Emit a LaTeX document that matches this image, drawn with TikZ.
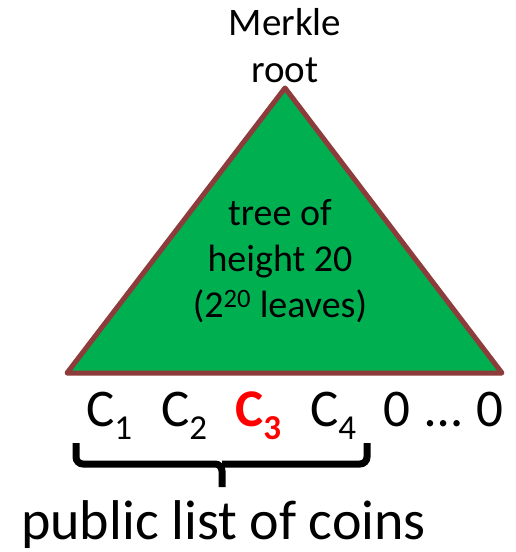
\documentclass[tikz,border=0pt]{standalone}
\usepackage{fontspec}
\setmainfont{Carlito}
\usetikzlibrary{positioning}
\definecolor{treeGreen}{HTML}{00B050}
\definecolor{treeBrown}{HTML}{8E3B3B}
\definecolor{coinRed}{HTML}{FF0000}
\newcommand{\coinsub}[1]{\raisebox{-13pt}{\fontsize{35}{35}\selectfont #1}}

\begin{document}
\begin{tikzpicture}[x=1pt, y=-1pt, every node/.style={align=center, inner sep=0pt},
    label38/.style={font=\fontsize{39}{47}\selectfont},
    coin/.style={anchor=base west, font=\fontsize{53}{53}\selectfont}]
    \useasboundingbox (0,0) rectangle (516,552);
    \filldraw[fill=treeGreen, draw=treeBrown, line width=5pt, line join=round]
      (67,373) -- (285,88) -- (502,373) -- cycle;
    \node[label38, anchor=base] (root) at (285,82) {Merkle\\root};
    \node[label38, anchor=base, font=\fontsize{38}{46}\selectfont] (tree) at (280,317) {tree of\\height 20\\(2\textsuperscript{20} leaves)};
    \node[coin] (c1) at (86,426) {C\coinsub{1}};
    \node[coin] (c2) at (161,426) {C\coinsub{2}};
    \node[coin, text=coinRed, font=\fontsize{53}{53}\selectfont\bfseries] (c3) at (235,426) {C\coinsub{3}};
    \node[coin] (c4) at (310,426) {C\coinsub{4}};
    \node[coin] (zeros) at (383,426) {0\ \hspace{3pt}\dots\ \hspace{3pt}0};
    \coordinate (braceL) at (76,443);
    \coordinate (braceR) at (367,443);
    \coordinate (braceM) at (222,464);
    \coordinate (braceTip) at (222,487);
    \draw[line width=7pt, rounded corners=7pt] (braceL) |- (braceM) -- (braceTip);
    \draw[line width=7pt, rounded corners=7pt] (braceR) |- (braceM);
    \node[anchor=base west, font=\fontsize{56}{56}\selectfont] (list) at (21,539) {public list of coins};
  \end{tikzpicture}
\end{document}
